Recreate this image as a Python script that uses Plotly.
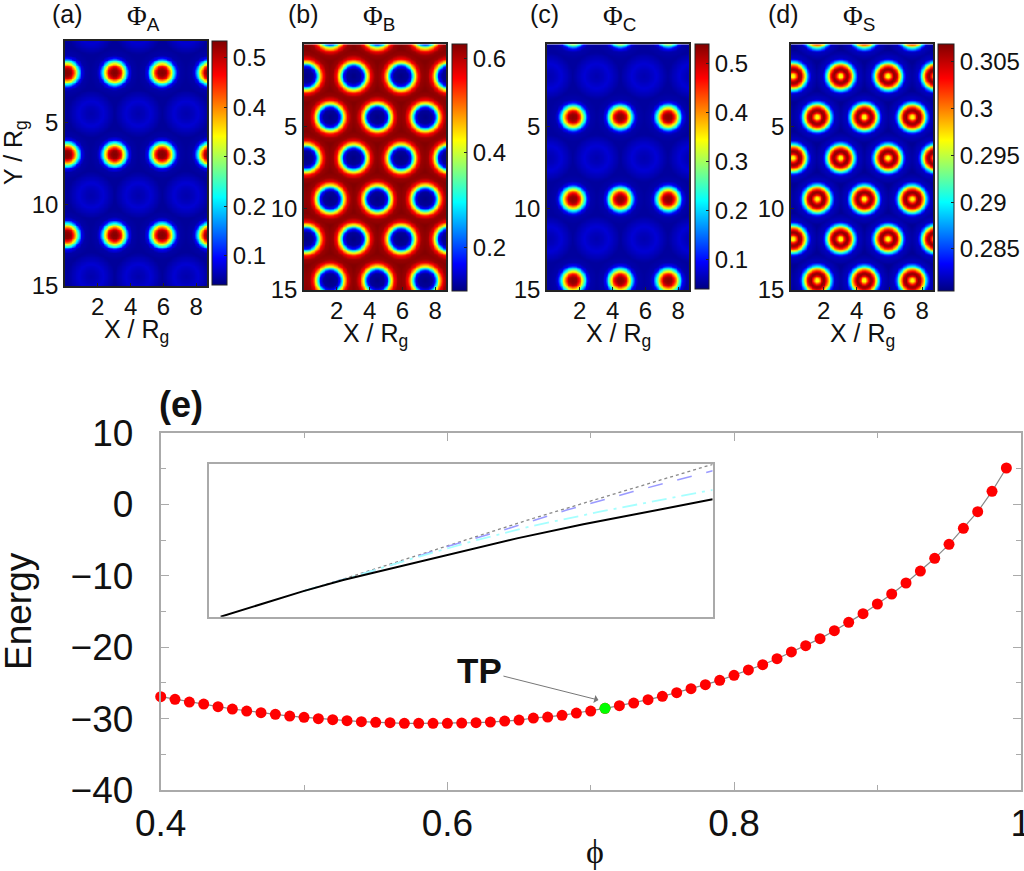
import numpy as np
import plotly.graph_objects as go

W, H = 1024, 871

# ---- panel field data ----
x_cells = [round(0.05 * i, 2) for i in range(174)]
y_cells = [round(0.05 * i, 2) for i in range(301)]
a_x = [0.1, 3.0, 5.9, 8.8]
a_y = [1.93, 6.93, 11.87]
c_x = [-1.35, 1.57, 4.45, 7.37, 10.25]
c_y = [-0.62, 4.43, 9.43, 14.4]

r_spot = [0, 0.2, 0.3, 0.4, 0.55, 0.75, 0.9, 1.1, 1.5]
phi_core = [0.534, 0.525, 0.5, 0.45, 0.35, 0.2, 0.09, 0.058, 0.052]
r_ring = [0, 0.35, 0.75, 1.1, 1.45]
phi_ring = [0.008, 0.013, 0.024, 0.012, 0.0]
r_hole = [0, 0.42, 0.6, 0.72, 0.86, 1.06, 1.27, 1.6]
phi_hole = [0.11, 0.12, 0.17, 0.29, 0.43, 0.56, 0.615, 0.628]
r_solv = [0, 0.1, 0.18, 0.28, 0.38, 0.5, 0.6, 0.73, 0.85, 0.98, 1.1, 1.6]
phi_solv = [0.296, 0.297, 0.3, 0.304, 0.3065, 0.3055, 0.302, 0.297, 0.29, 0.285, 0.282, 0.281]

x_ticks = [2, 4, 6, 8]
y_ticks = [5, 10, 15]
panel_tags = ["(a)", "(b)", "(c)", "(d)"]
panel_names = ["A", "B", "C", "S"]
cb_ticks = [
    [0.1, 0.2, 0.3, 0.4, 0.5],
    [0.2, 0.4, 0.6],
    [0.1, 0.2, 0.3, 0.4, 0.5],
    [0.285, 0.29, 0.295, 0.3, 0.305],
]
cb_labels = [
    ["0.1", "0.2", "0.3", "0.4", "0.5"],
    ["0.2", "0.4", "0.6"],
    ["0.1", "0.2", "0.3", "0.4", "0.5"],
    ["0.285", "0.29", "0.295", "0.3", "0.305"],
]
cb_ranges = [(0.041, 0.534), (0.1075, 0.63), (0.039, 0.539), (0.2805, 0.3069)]

# ---- lower panel data ----
phi = [round(0.40 + 0.01 * i, 2) for i in range(60)]
energy = [
    -26.93, -27.30, -27.68, -27.96, -28.33, -28.66, -28.94, -29.17, -29.40, -29.64,
    -29.82, -30.01, -30.15, -30.29, -30.43, -30.52, -30.57, -30.66, -30.66, -30.66,
    -30.66, -30.62, -30.57, -30.48, -30.34, -30.20, -29.92, -29.78, -29.54, -29.22,
    -28.94, -28.56, -28.19, -27.82, -27.35, -26.88, -26.37, -25.81, -25.25, -24.64,
    -23.94, -23.19, -22.45, -21.61, -20.67, -19.79, -18.80, -17.69, -16.52, -15.30,
    -13.95, -12.55, -11.01, -9.33, -7.55, -5.59, -3.35, -1.02, 1.83, 5.10,
]
tp_phi = [0.71]
tp_energy = [-28.56]
main_x_ticks = [0.4, 0.6, 0.8, 1.0]
main_x_labels = ["0.4", "0.6", "0.8", "1"]
main_x_minor = [0.5, 0.7, 0.9]
main_y_ticks = [-40, -30, -20, -10, 0, 10]
main_y_labels = ["−40", "−30", "−20", "−10", "0", "10"]
main_y_minor = [-35, -25, -15, -5, 5]

# ---- inset data (no scale shown, fractions of the inset box) ----
black_x = [0.0225, 0.187, 0.266, 0.478, 0.611, 0.743, 0.876, 1.0]
black_y = [0.0, 0.168, 0.241, 0.411, 0.514, 0.606, 0.692, 0.770]
cyan_x = [0.187, 0.266, 0.405, 0.531, 0.644, 0.776, 1.0]
cyan_y = [0.168, 0.243, 0.383, 0.503, 0.597, 0.689, 0.832]
blue_x = [0.187, 0.266, 0.352, 0.478, 0.578, 0.710, 0.842, 1.0]
blue_y = [0.168, 0.245, 0.328, 0.466, 0.562, 0.700, 0.821, 0.958]
grey_x = [0.187, 0.266, 0.478, 0.644, 0.809, 1.0]
grey_y = [0.168, 0.247, 0.470, 0.646, 0.810, 1.0]

jet = [
    [0.0, "rgb(0,0,128)"], [0.11, "rgb(0,0,255)"], [0.36, "rgb(0,255,255)"],
    [0.61, "rgb(255,255,0)"], [0.86, "rgb(255,0,0)"], [1.0, "rgb(128,0,0)"],
]

FONT = "Liberation Sans, Arial, sans-serif"
SMALL = 24
BIG = 37
GRID_X, GRID_Y = np.meshgrid(x_cells, y_cells)


def radii(xs, ys):
    px = np.array(xs)[:, None, None]
    py = np.array(ys)[None, :, None]
    d = np.sqrt((GRID_X[None, None] - px[..., None]) ** 2 +
                (GRID_Y[None, None] - py[..., None]) ** 2)
    return d.reshape(len(xs) * len(ys), *GRID_X.shape).min(axis=0)


r_a = radii(a_x, a_y)
r_c = radii(c_x, c_y)
r_min = np.minimum(r_a, r_c)

z_a = np.interp(r_a, r_spot, phi_core) + np.interp(r_c, r_ring, phi_ring)
z_c = np.interp(r_c, r_spot, phi_core) + np.interp(r_a, r_ring, phi_ring)
z_b = np.interp(r_min, r_hole, phi_hole)
z_s = np.interp(r_min, r_solv, phi_solv)
fields = [z_a, z_b, z_c, z_s]

# boxes in page pixels
boxes = [(65, 207, 41, 286), (304, 446, 44.3, 290), (547, 689, 44.3, 290), (791, 933, 44.3, 290)]
cbars = [(212, 227, 41, 285), (452, 467, 44, 291), (695, 709, 44, 289), (938, 954, 44, 291)]
tag_centers = [67, 303, 544, 783]
name_centers = [143, 379, 619, 859]


def fx(p):
    return p / W


def fy(p):
    return 1 - p / H


fig = go.Figure()
annotations = []
for i, field in enumerate(fields):
    n = i + 1
    xa, ya = f"x{n}" if n > 1 else "x", f"y{n}" if n > 1 else "y"
    x0, x1, y0, y1 = boxes[i]
    c0, c1, d0, d1 = cbars[i]
    zmin, zmax = cb_ranges[i]
    fig.add_trace(go.Heatmap(
        x=x_cells, y=y_cells, z=field, xaxis=xa, yaxis=ya, zmin=zmin, zmax=zmax,
        colorscale=jet, zsmooth="best", hoverinfo="skip",
        colorbar=dict(
            x=fx(c0), xanchor="left", xpad=0, ypad=0, y=fy(d0), yanchor="top",
            len=(d1 - d0) / H, lenmode="fraction", thickness=c1 - c0, thicknessmode="pixels",
            tickvals=cb_ticks[i], ticktext=cb_labels[i], ticks="inside", ticklen=3,
            tickcolor="#222", tickfont=dict(family=FONT, size=SMALL, color="#111"),
            outlinecolor="#222", outlinewidth=1, borderwidth=0,
        ),
    ))
    suffix = str(n) if n > 1 else ""
    fig.update_layout({
        "xaxis" + suffix: dict(
            domain=[fx(x0), fx(x1)], anchor=ya, range=[0, 8.66], tickvals=x_ticks,
            ticks="inside", ticklen=3, tickcolor="#222", showline=True, mirror=True,
            linecolor="#222", linewidth=1.5, showgrid=False, zeroline=False,
            tickfont=dict(family=FONT, size=SMALL, color="#111"), ticklabelstandoff=-2,
        ),
        "yaxis" + suffix: dict(
            domain=[fy(y1), fy(y0)], anchor=xa, range=[15, 0], tickvals=y_ticks,
            ticks="inside", ticklen=3, tickcolor="#222", showline=True, mirror=True,
            linecolor="#222", linewidth=1.5, showgrid=False, zeroline=False,
            tickfont=dict(family=FONT, size=SMALL, color="#111"),
        ),
    })
    annotations.append(dict(
        xref="paper", yref="paper", x=fx((x0 + x1) / 2), y=fy(y1 + 45), xanchor="center", yanchor="middle",
        text="X / R<sub>g</sub>", showarrow=False, font=dict(family=FONT, size=25, color="#111"),
    ))
    annotations.append(dict(
        xref="paper", yref="paper", x=fx(tag_centers[i]), y=fy(14), xanchor="center", yanchor="middle",
        text=panel_tags[i], showarrow=False, font=dict(family=FONT, size=25, color="#111"),
    ))
    annotations.append(dict(
        xref="paper", yref="paper", x=fx(name_centers[i]), y=fy(18), xanchor="center", yanchor="middle",
        text=f"<span style='font-family:Liberation Serif'>Φ</span><sub>{panel_names[i]}</sub>",
        showarrow=False, font=dict(family=FONT, size=27, color="#111"),
    ))

annotations.append(dict(
    xref="paper", yref="paper", x=fx(15), y=fy(153), xanchor="center", yanchor="middle", textangle=-90,
    text="Y / R<sub>g</sub>", showarrow=False, font=dict(family=FONT, size=25, color="#111"),
))

# lower panel
fig.add_trace(go.Scatter(
    x=phi, y=energy, mode="lines+markers", xaxis="x5", yaxis="y5", hoverinfo="skip",
    line=dict(color="#888", width=1.2), cliponaxis=False,
    marker=dict(color="#ff0000", size=11, line=dict(width=0)),
))
fig.add_trace(go.Scatter(
    x=tp_phi, y=tp_energy, mode="markers", xaxis="x5", yaxis="y5", hoverinfo="skip",
    marker=dict(color="#00ff00", size=11, line=dict(width=0)),
))
GREY = "#aaaaaa"
fig.update_layout(
    xaxis5=dict(
        domain=[fx(160.7), fx(1020.7)], anchor="y5", range=[0.4, 1.0],
        tickvals=main_x_ticks, ticktext=main_x_labels, ticks="inside", ticklen=8,
        minor=dict(tickvals=main_x_minor, ticks="inside", ticklen=5, tickcolor=GREY, showgrid=False),
        tickcolor=GREY, showline=True, mirror="ticks", linecolor=GREY, linewidth=2,
        showgrid=False, zeroline=False, tickfont=dict(family=FONT, size=BIG, color="#111"),
        ticklabeloverflow="allow",
    ),
    yaxis5=dict(
        domain=[fy(790), fy(433)], anchor="x5", range=[-40, 10],
        tickvals=main_y_ticks, ticktext=main_y_labels, ticks="inside", ticklen=8,
        minor=dict(tickvals=main_y_minor, ticks="inside", ticklen=5, tickcolor=GREY, showgrid=False),
        tickcolor=GREY, showline=True, mirror="ticks", linecolor=GREY, linewidth=2,
        showgrid=False, zeroline=False, tickfont=dict(family=FONT, size=BIG, color="#111"),
        ticklabelstandoff=18,
    ),
)

# inset
inset_styles = [
    (grey_x, grey_y, "#888888", "dot", 1.3),
    (blue_x, blue_y, "#9a9aff", "longdash", 1.5),
    (cyan_x, cyan_y, "#a6ffff", "longdashdot", 1.8),
    (black_x, black_y, "#000000", "solid", 2),
]
for lx, ly, col, dash, wid in inset_styles:
    fig.add_trace(go.Scatter(
        x=lx, y=ly, mode="lines", xaxis="x6", yaxis="y6", hoverinfo="skip",
        line=dict(color=col, dash=dash, width=wid),
    ))
fig.update_layout(
    xaxis6=dict(domain=[fx(209.3), fx(712.7)], anchor="y6", range=[0, 1], showticklabels=False,
                ticks="", showline=True, mirror=True, linecolor=GREY, linewidth=1.5,
                showgrid=False, zeroline=False),
    yaxis6=dict(domain=[fy(616.7), fy(464.3)], anchor="x6", range=[0, 1], showticklabels=False,
                ticks="", showline=True, mirror=True, linecolor=GREY, linewidth=1.5,
                showgrid=False, zeroline=False),
)

annotations.append(dict(
    xref="paper", yref="paper", x=fx(181), y=fy(405), xanchor="center", yanchor="middle",
    text="<b>(e)</b>", showarrow=False, font=dict(family=FONT, size=36, color="#111"),
))
annotations.append(dict(
    xref="paper", yref="paper", x=fx(18), y=fy(611), xanchor="center", yanchor="middle", textangle=-90,
    text="Energy", showarrow=False, font=dict(family=FONT, size=BIG, color="#111"),
))
annotations.append(dict(
    xref="paper", yref="paper", x=fx(595), y=fy(851), xanchor="center", yanchor="middle",
    text="ϕ", showarrow=False, font=dict(family="Liberation Serif, DejaVu Serif", size=34, color="#111"),
))
annotations.append(dict(
    xref="x5", yref="y5", x=0.7054, y=-27.4, axref="pixel", ayref="pixel", ax=-119, ay=-30,
    text="<b>TP</b>", showarrow=True, arrowhead=1, arrowsize=1.4, arrowwidth=1, arrowcolor="#777",
    font=dict(family=FONT, size=35, color="#111"),
))

fig.update_layout(
    width=W, height=H, margin=dict(l=0, r=0, t=0, b=0, autoexpand=False), paper_bgcolor="white",
    plot_bgcolor="white", showlegend=False, annotations=annotations,
)

fig.write_html(
    "out.html",
    config={"displayModeBar": False},
    post_script="document.body.style.margin='0';document.documentElement.style.overflow='hidden';",
)
